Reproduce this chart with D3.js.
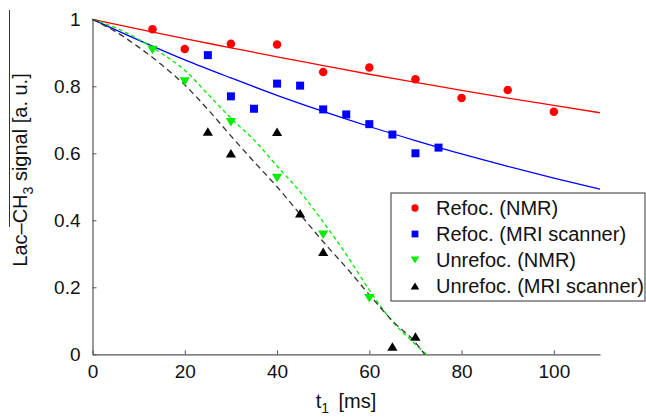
<!DOCTYPE html>
<html>
<head>
<meta charset="utf-8">
<script src="https://cdn.jsdelivr.net/npm/d3@7"></script>
<style>
  html, body { margin: 0; padding: 0; background: #fff; }
  svg { display: block; font-family: "Liberation Sans", Arial, sans-serif; }
</style>
</head>
<body>
<svg id="chart" width="646" height="417"></svg>
<script>
// measured points (t1 in ms, signal in a.u.)
const refocNmrT = [13, 20, 30, 40, 50, 60, 70, 80, 90, 100];
const refocNmrS = [0.970, 0.911, 0.927, 0.925, 0.843, 0.856, 0.821, 0.765, 0.789, 0.724];

const refocMriT = [25, 30, 35, 40, 45, 50, 55, 60, 65, 70, 75];
const refocMriS = [0.893, 0.770, 0.733, 0.808, 0.802, 0.731, 0.716, 0.687, 0.656, 0.600, 0.617];

const unrefocNmrT = [13, 20, 30, 40, 50, 60];
const unrefocNmrS = [0.908, 0.814, 0.693, 0.526, 0.357, 0.167];

const unrefocMriT = [25, 30, 40, 45, 50, 65, 70];
const unrefocMriS = [0.665, 0.600, 0.664, 0.421, 0.306, 0.023, 0.053];

// fitted curves
const refocFitT = [0, 10, 20, 30, 40, 50, 60, 70, 80, 90, 100, 110];
const refocNmrFit = [1, 0.971, 0.942, 0.915, 0.888, 0.862, 0.836, 0.812, 0.788, 0.765, 0.743, 0.721];
const refocMriFit = [1, 0.938, 0.879, 0.825, 0.773, 0.725, 0.680, 0.638, 0.598, 0.561, 0.526, 0.493];

const unrefocNmrFitT = [0, 5, 10, 15, 20, 25, 30, 35, 40, 45, 50, 55, 60, 65, 70, 72.4];
const unrefocNmrFit = [1, 0.975, 0.940, 0.898, 0.848, 0.777, 0.705, 0.640, 0.562, 0.485, 0.395, 0.298, 0.192, 0.098, 0.030, 0];
const unrefocMriFitT = [0, 5, 10, 15, 20, 25, 30, 35, 40, 45, 50, 55, 60, 65, 70, 72];
const unrefocMriFit = [1, 0.963, 0.917, 0.864, 0.804, 0.731, 0.652, 0.575, 0.500, 0.418, 0.336, 0.259, 0.178, 0.100, 0.035, 0];

const xTicks = [0, 20, 40, 60, 80, 100];
const yTicks = [0, 0.2, 0.4, 0.6, 0.8, 1];
const legendLabels = ['Refoc. (NMR)', 'Refoc. (MRI scanner)', 'Unrefoc. (NMR)', 'Unrefoc. (MRI scanner)'];

const svg = d3.select('#chart');

const x = d3.scaleLinear().domain([0, 110]).range([92.5, 600]);
const y = d3.scaleLinear().domain([0, 1]).range([354.3, 19.3]);

// triangles centred on their bounding box, like matlab markers
const triUp = { draw(ctx, size) { const h = size; ctx.moveTo(0, -h / 2); ctx.lineTo(h * 0.6, h / 2); ctx.lineTo(-h * 0.6, h / 2); ctx.closePath(); } };
const triDown = { draw(ctx, size) { const h = size; ctx.moveTo(0, h / 2); ctx.lineTo(h * 0.6, -h / 2); ctx.lineTo(-h * 0.6, -h / 2); ctx.closePath(); } };
const circ = { draw(ctx, size) { ctx.arc(0, 0, size / 2, 0, 2 * Math.PI); } };
const sq = { draw(ctx, size) { ctx.rect(-size / 2, -size / 2, size, size); } };

const series = [
  { t: refocNmrT, s: refocNmrS, ft: refocFitT, f: refocNmrFit, color: '#ff0000', dash: null, sym: circ, size: 8.5 },
  { t: refocMriT, s: refocMriS, ft: refocFitT, f: refocMriFit, color: '#0000ff', dash: null, sym: sq, size: 8 },
  { t: unrefocNmrT, s: unrefocNmrS, ft: unrefocNmrFitT, f: unrefocNmrFit, color: '#00ee00', dash: '4,3', sym: triDown, size: 8.5 },
  { t: unrefocMriT, s: unrefocMriS, ft: unrefocMriFitT, f: unrefocMriFit, color: '#000000', lineColor: '#333', dash: '6,4', sym: triUp, size: 8.5 }
];

// axes
const xAxis = svg.append('g')
  .attr('transform', `translate(0,${y(0)})`)
  .call(d3.axisBottom(x).tickValues(xTicks).tickSizeInner(-4).tickSizeOuter(0).tickPadding(10));
const yAxis = svg.append('g')
  .attr('transform', `translate(${x(0)},0)`)
  .call(d3.axisLeft(y).tickValues(yTicks).tickFormat(d3.format('~g')).tickSizeInner(-4).tickSizeOuter(0).tickPadding(12));

[xAxis, yAxis].forEach(a => {
  a.select('.domain').attr('stroke', '#555').attr('stroke-width', 1.2);
  a.selectAll('.tick line').attr('stroke', '#555');
  a.selectAll('.tick text')
    .attr('fill', '#111')
    .style('font-size', '19px')
    .style('font-family', '"Liberation Sans", Arial, sans-serif');
});

// fit lines
const line = d3.line().x(d => x(d[0])).y(d => y(d[1])).curve(d3.curveMonotoneX);
series.forEach(sr => {
  svg.append('path')
    .datum(sr.ft.map((t, i) => [t, sr.f[i]]))
    .attr('fill', 'none')
    .attr('stroke', sr.lineColor || sr.color)
    .attr('stroke-width', 1.3)
    .attr('stroke-dasharray', sr.dash)
    .attr('d', line);
});

// markers
series.forEach(sr => {
  svg.selectAll(null)
    .data(sr.t.map((t, i) => [t, sr.s[i]]))
    .enter().append('path')
    .attr('transform', d => `translate(${x(d[0])},${y(d[1])})`)
    .attr('d', d3.symbol().type(sr.sym).size(sr.size)())
    .attr('fill', sr.color);
});

// axis labels
const xl = svg.append('text')
  .attr('x', 346).attr('y', 408)
  .attr('text-anchor', 'middle')
  .style('font-size', '20px')
  .attr('fill', '#111');
xl.append('tspan').text('t');
xl.append('tspan').attr('dy', 5).style('font-size', '14px').text('1');
xl.append('tspan').attr('dy', -5).text('\u2009 [ms]');

const yl = svg.append('text')
  .attr('transform', 'translate(27,170) rotate(-90)')
  .attr('text-anchor', 'middle')
  .style('font-size', '20px')
  .attr('fill', '#111');
yl.append('tspan').text('Lac\u2013CH');
yl.append('tspan').attr('dy', 6).style('font-size', '14px').text('3');
yl.append('tspan').attr('dy', -6).text(' signal [a. u.]');

// the overline that runs over "CH3 signal..." in the original
svg.append('line')
  .attr('x1', 9.5).attr('x2', 9.5)
  .attr('y1', 10).attr('y2', 227)
  .attr('stroke', '#333').attr('stroke-width', 1);

// legend
const legend = svg.append('g').attr('transform', 'translate(391,193)');
legend.append('rect')
  .attr('x', 0).attr('y', 0).attr('width', 254).attr('height', 108)
  .attr('fill', '#fff').attr('stroke', '#333').attr('stroke-width', 1);
const items = legend.selectAll('.item')
  .data(series)
  .enter().append('g')
  .attr('class', 'item')
  .attr('transform', (d, i) => `translate(0,${15 + i * 26})`);
items.append('path')
  .attr('transform', 'translate(24,0)')
  .attr('d', d => d3.symbol().type(d.sym).size(d.size * 0.85)())
  .attr('fill', d => d.color);
items.append('text')
  .attr('x', 45).attr('dy', '0.35em')
  .style('font-size', '20px')
  .attr('fill', '#111')
  .text((d, i) => legendLabels[i]);
</script>
</body>
</html>
